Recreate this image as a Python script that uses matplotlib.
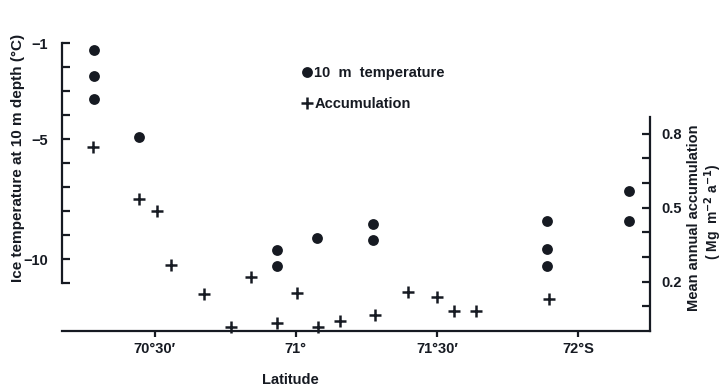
import numpy as np
import matplotlib
matplotlib.use("Agg")
import matplotlib.pyplot as plt
from matplotlib.lines import Line2D

plt.rcParams['font.family'] = ['Liberation Sans', 'DejaVu Sans']
plt.rcParams['font.weight'] = 'bold'

INK = '#161a22'

# 10 m temperature (deg C) against latitude (decimal degrees S)
temp_lat = [70.287, 70.287, 70.287, 70.446, 70.932, 70.932, 71.074,
            71.272, 71.272, 71.890, 71.890, 71.890, 72.182, 72.182]
temp_val = [-1.28, -2.39, -3.32, -4.92, -9.64, -10.31, -9.13,
            -8.56, -9.20, -8.43, -9.57, -10.31, -7.15, -8.43]

# mean annual accumulation (Mg m-2 a-1)
acc_lat = [70.283, 70.445, 70.508, 70.557, 70.676, 70.770, 70.842, 70.933,
           71.005, 71.078, 71.158, 71.281, 71.399, 71.499, 71.561, 71.639, 71.897]
acc_val = [0.748, 0.536, 0.486, 0.266, 0.151, 0.015, 0.221, 0.032,
           0.155, 0.015, 0.039, 0.063, 0.157, 0.137, 0.083, 0.083, 0.131]

lat_ticks = [70.5, 71.0, 71.5, 72.0]
lat_labels = ["70°30′", "71°", "71°30′", "72°S"]
temp_ticks = [-1, -5, -10]
acc_ticks = [0.2, 0.5, 0.8]

fig = plt.figure(figsize=(7.23, 3.88), dpi=100)
ax = fig.add_axes([62 / 723, 1 - 331 / 388, 588 / 723, 301 / 388])
ax2 = ax.twinx()

ax.plot(temp_lat, temp_val, 'o', color=INK, ms=7.8, mec='none', clip_on=False)
ax2.plot(acc_lat, acc_val, '+', color=INK, ms=8, mew=1.8, clip_on=False)

ax.set_xlim(70.172, 72.255)
ax.set_ylim(-13, -0.458)
ax2.set_ylim(0, 1.221)

for a in (ax, ax2):
    a.spines['top'].set_visible(False)
    for s in a.spines.values():
        s.set_linewidth(1.6)
        s.set_color(INK)
ax.spines['right'].set_visible(False)
ax2.spines['left'].set_visible(False)
ax2.spines['bottom'].set_visible(False)
ax.spines['left'].set_bounds(-11, -1)
ax2.spines['right'].set_bounds(0, 0.868)

ax.set_xticks(lat_ticks)
ax.set_xticklabels(lat_labels)
ax.set_yticks(temp_ticks)
ax.set_yticklabels(["−1", "−5", "−10"])
ax.set_yticks(np.arange(-11, 0), minor=True)
ax2.set_yticks(acc_ticks)
ax2.set_yticks(np.arange(0.1, 0.85, 0.1), minor=True)

ax.tick_params(axis='x', direction='out', length=4, width=1.6, color=INK,
               labelsize=10.5, labelcolor=INK, pad=4)
ax.tick_params(axis='y', which='both', direction='in', length=6, width=1.6,
               color=INK, labelsize=10.5, labelcolor=INK, pad=10)
ax2.tick_params(axis='y', which='both', direction='in', length=6, width=1.6,
                color=INK, labelsize=10.5, labelcolor=INK, pad=8)

fig.text(290 / 723, 1 - 380 / 388, "Latitude", ha='center', va='center',
         fontsize=10.5, color=INK)
fig.text(18 / 723, 1 - 158 / 388, "Ice temperature at 10 m depth (°C)",
         rotation=90, ha='center', va='center', fontsize=11, color=INK)
fig.text(694 / 723, 1 - 218 / 388, "Mean annual accumulation",
         rotation=90, ha='center', va='center', fontsize=10.5, color=INK)
fig.text(713 / 723, 1 - 212 / 388, "( Mg  m$^{\\mathbf{-2}}$ a$^{\\mathbf{-1}}$)",
         rotation=90, ha='center', va='center', fontsize=10, color=INK)

handles = [Line2D([], [], ls='none', marker='o', color=INK, ms=7.8, mec='none'),
           Line2D([], [], ls='none', marker='+', color=INK, ms=8, mew=1.8)]
ax.legend(handles, ["10  m  temperature", "Accumulation"], loc='upper left',
          bbox_to_anchor=(296 / 723, 1 - 47 / 388), frameon=False,
          handlelength=0.6, handletextpad=0.2, labelspacing=1.15,
          borderpad=0, borderaxespad=0,
          prop={'size': 10.5, 'weight': 'bold'}, labelcolor=INK)

fig.savefig("out.png", dpi=100)
